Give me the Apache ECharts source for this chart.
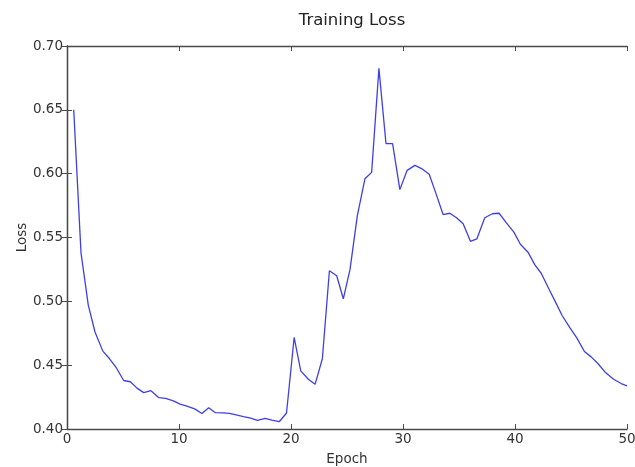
<!DOCTYPE html>
<html>
<head>
<meta charset="utf-8">
<script src="https://cdn.jsdelivr.net/npm/echarts@6/dist/echarts.min.js"></script>
<style>
 html,body{margin:0;padding:0;background:#fff;}
 #lossChart{width:635px;height:467px;}
</style>
</head>
<body>
<div id="lossChart"></div>
<script>
 //训练损失数据
 var epochs = [0.6, 1.25, 1.9, 2.5, 3.2, 3.8, 4.4, 5.06, 5.66, 6.25, 6.85, 7.5, 8.2, 8.8, 9.5, 10.1,
	10.7, 11.4, 12.05, 12.65, 13.25, 13.9, 14.5, 15.1, 15.75, 16.4, 17.0, 17.7, 18.3, 18.95, 19.6,
	20.28, 20.87, 21.55, 22.15, 22.8, 23.43, 24.08, 24.67, 25.27, 25.92, 26.6, 27.2, 27.85, 28.48,
	29.07, 29.72, 30.37, 31.06, 31.66, 32.34, 33.0, 33.58, 34.18, 34.78, 35.37, 36.02, 36.6, 37.3,
	37.98, 38.58, 39.23, 39.9, 40.48, 41.16, 41.76, 42.35, 43.03, 43.63, 44.22, 44.88, 45.53, 46.2,
	46.8, 47.4, 48.08, 48.8, 49.48, 50.0];
 var loss = [0.650, 0.538, 0.497, 0.476, 0.461, 0.455, 0.448, 0.438, 0.437, 0.432, 0.4285, 0.430, 0.4245, 0.424, 0.422, 0.4195,
	0.418, 0.4158, 0.4122, 0.4167, 0.4128, 0.4126, 0.4122, 0.411, 0.4097, 0.4085, 0.4068, 0.4084, 0.407, 0.4057, 0.4125,
	0.4717, 0.4455, 0.439, 0.435, 0.455, 0.524, 0.520, 0.502, 0.525, 0.567, 0.596, 0.601, 0.6825, 0.6236,
	0.6236, 0.5875, 0.6026, 0.6065, 0.604, 0.5995, 0.583, 0.568, 0.569, 0.5655, 0.5607, 0.547, 0.549, 0.5655,
	0.5686, 0.569, 0.5615, 0.5542, 0.5447, 0.5385, 0.5288, 0.5218, 0.5097, 0.4992, 0.4887, 0.4796, 0.4712, 0.4607,
	0.4565, 0.4513, 0.4442, 0.439, 0.4356, 0.4338];
 var xTicks = [0, 10, 20, 30, 40, 50];
 var yTicks = [0.40, 0.45, 0.50, 0.55, 0.60, 0.65, 0.70];

 var myChart = null;
 function lossLine(){
	myChart = echarts.init(document.getElementById('lossChart'));
	var pts = [];
	for(var i = 0; i < epochs.length; i++){
		pts.push([epochs[i], loss[i]]);
	}
	var frameLine = {lineStyle:{color:'#4a4a4a', width:1.3}};
	var txt = {color:'#333', fontFamily:'DejaVu Sans', fontSize:13.5};
	var option = {
		animation: false,
		title: {
			text: 'Training Loss',
			left: 347,
			textAlign: 'center',
			top: 7,
			textStyle: {color:'#222', fontFamily:'DejaVu Sans', fontSize:16.5, fontWeight:'normal'}
		},
		grid: {
			left: 67,
			right: 8,
			top: 46,
			bottom: 38,
			outerBoundsMode: 'none',
			containLabel: false
		},
		xAxis: [
			{
				type: 'value',
				min: xTicks[0],
				max: xTicks[xTicks.length-1],
				interval: 10,
				name: 'Epoch',
				nameLocation: 'middle',
				nameGap: 23,
				nameTextStyle: txt,
				axisLine: frameLine,
				axisTick: {inside:true, length:5, lineStyle:{color:'#4a4a4a'}},
				axisLabel: {color:'#333', fontFamily:'DejaVu Sans', fontSize:13.5, margin:3},
				splitLine: {show:false}
			},
			{
				type: 'value',
				position: 'top',
				min: xTicks[0],
				max: xTicks[xTicks.length-1],
				interval: 10,
				axisLine: frameLine,
				axisTick: {inside:true, length:5, lineStyle:{color:'#4a4a4a'}},
				axisLabel: {show:false},
				splitLine: {show:false}
			}
		],
		yAxis: [
			{
				type: 'value',
				min: yTicks[0],
				max: yTicks[yTicks.length-1],
				interval: 0.05,
				name: 'Loss',
				nameLocation: 'middle',
				nameGap: 38,
				nameMoveOverlap: false,
				nameTextStyle: txt,
				axisLine: frameLine,
				axisTick: {inside:true, length:5, lineStyle:{color:'#4a4a4a'}},
				axisLabel: {
					color:'#333', fontFamily:'DejaVu Sans', fontSize:13.5, margin:4,
					formatter: function(v){ return v.toFixed(2); }
				},
				splitLine: {show:false}
			},
			{
				type: 'value',
				position: 'right',
				min: yTicks[0],
				max: yTicks[yTicks.length-1],
				interval: 0.05,
				axisLine: frameLine,
				axisTick: {inside:true, length:5, lineStyle:{color:'#4a4a4a'}},
				axisLabel: {show:false},
				splitLine: {show:false}
			}
		],
		series: [
			{
				name: 'loss',
				type: 'line',
				xAxisIndex: 0,
				yAxisIndex: 0,
				showSymbol: false,
				smooth: false,
				lineStyle: {color:'#3f3fe6', width:1.3},
				data: pts
			}
		]
	};
	myChart.setOption(option, true);
 }
 lossLine();
</script>
</body>
</html>
